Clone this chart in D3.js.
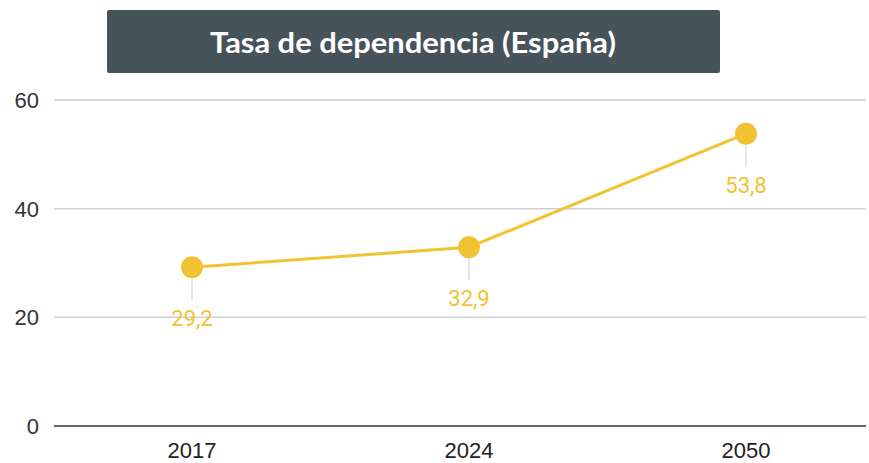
<!DOCTYPE html>
<html>
<head>
<meta charset="utf-8">
<script src="https://cdn.jsdelivr.net/npm/d3@7"></script>
<style>
  html, body { margin: 0; padding: 0; background: #fff; }
  svg { display: block; }
</style>
</head>
<body>
<svg id="chart" width="869" height="463"></svg>
<script>
// ---------------- DATA ----------------
const years = ["2017", "2024", "2050"];
const values = [29.2, 32.9, 53.8];
const yTicks = [0, 20, 40, 60];
const title = "Tasa de dependencia (España)";

// ---------------- CHART ----------------
const svg = d3.select("#chart");

const x = d3.scalePoint().domain(years).range([192, 746]);
const y = d3.scaleLinear().domain([0, 60]).range([426, 100]);

const plotLeft = 54, plotRight = 866;

// title box
svg.append("rect")
  .attr("x", 107).attr("y", 10)
  .attr("width", 613).attr("height", 63)
  .attr("rx", 2)
  .attr("fill", "#47535a");

svg.append("text")
  .attr("x", 413).attr("y", 53)
  .attr("text-anchor", "middle")
  .attr("fill", "#fff")
  .attr("font-family", "Lato, sans-serif")
  .attr("font-weight", "bold")
  .attr("font-size", 28)
  .attr("textLength", 406)
  .attr("lengthAdjust", "spacingAndGlyphs")
  .text(title);

// gridlines
svg.append("g")
  .selectAll("line")
  .data(yTicks.filter(d => d !== 0))
  .join("line")
  .attr("x1", plotLeft).attr("x2", plotRight)
  .attr("y1", d => y(d)).attr("y2", d => y(d))
  .attr("stroke", "#cfcfcf")
  .attr("stroke-width", 1.5);

// y tick labels
svg.append("g")
  .selectAll("text")
  .data(yTicks)
  .join("text")
  .attr("x", 39)
  .attr("y", d => y(d))
  .attr("dy", "0.36em")
  .attr("text-anchor", "end")
  .attr("fill", "#333")
  .attr("font-family", "Liberation Sans, Arial, sans-serif")
  .attr("font-size", 22)
  .text(d => d);

// baseline
svg.append("line")
  .attr("x1", plotLeft).attr("x2", plotRight)
  .attr("y1", y(0)).attr("y2", y(0))
  .attr("stroke", "#333")
  .attr("stroke-width", 1.5);

// x labels
svg.append("g")
  .selectAll("text")
  .data(years)
  .join("text")
  .attr("x", d => x(d))
  .attr("y", 458)
  .attr("text-anchor", "middle")
  .attr("fill", "#222")
  .attr("font-family", "Liberation Sans, Arial, sans-serif")
  .attr("font-size", 22)
  .text(d => d);

const pts = years.map((yr, i) => ({ yr, v: values[i] }));

// leader lines
svg.append("g")
  .selectAll("line")
  .data(pts)
  .join("line")
  .attr("x1", d => x(d.yr)).attr("x2", d => x(d.yr))
  .attr("y1", d => y(d.v) + 10).attr("y2", d => y(d.v) + 33)
  .attr("stroke", "#e6e6e6")
  .attr("stroke-width", 2);

// line
svg.append("path")
  .datum(pts)
  .attr("fill", "none")
  .attr("stroke", "#f1c232")
  .attr("stroke-width", 3)
  .attr("d", d3.line().x(d => x(d.yr)).y(d => y(d.v)));

// points
svg.append("g")
  .selectAll("circle")
  .data(pts)
  .join("circle")
  .attr("cx", d => x(d.yr))
  .attr("cy", d => y(d.v))
  .attr("r", 11)
  .attr("fill", "#f1c232");

// value labels
svg.append("g")
  .selectAll("text")
  .data(pts)
  .join("text")
  .attr("x", d => x(d.yr))
  .attr("y", d => y(d.v) + 59)
  .attr("text-anchor", "middle")
  .attr("fill", "#f1c232")
  .attr("font-family", "Roboto, sans-serif")
  .attr("font-size", 22)
  .text(d => String(d.v).replace(".", ","));
</script>
</body>
</html>
